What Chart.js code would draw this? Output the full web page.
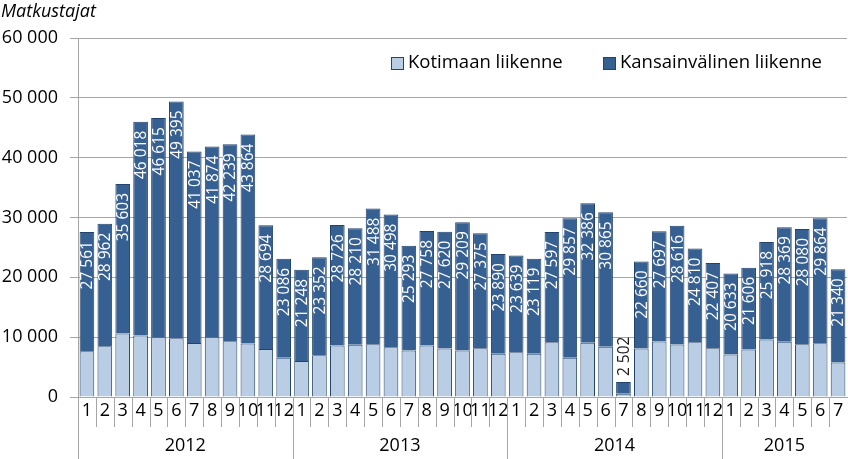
<!DOCTYPE html>
<html>
<head>
<meta charset="utf-8">
<script src="https://cdn.jsdelivr.net/npm/chart.js@4"></script>
<style>
  body { margin: 0; background: #fff; }
  canvas { display: block; }
</style>
</head>
<body>
<canvas id="chart" width="848" height="459"></canvas>
<script>
// month labels on the x axis, grouped by year
const months = [
  '1','2','3','4','5','6','7','8','9','10','11','12',
  '1','2','3','4','5','6','7','8','9','10','11','12',
  '1','2','3','4','5','6','7','8','9','10','11','12',
  '1','2','3','4','5','6','7'
];
const years = ['2012', '2013', '2014', '2015'];
const monthsPerYear = [12, 12, 12, 7];

// total passengers, written on the bars
const totals = [
  27561, 28962, 35603, 46018, 46615, 49395, 41037, 41874, 42239, 43864, 28694, 23086,
  21248, 23352, 28726, 28210, 31488, 30498, 25293, 27758, 27620, 29209, 27375, 23890,
  23639, 23119, 27597, 29857, 32386, 30865, 2502, 22660, 27697, 28616, 24810, 22407,
  20633, 21606, 25918, 28369, 28080, 29864, 21340
];

// domestic traffic (estimated from the light bars)
const domestic = [
  7640, 8480, 10600, 10270, 9980, 9820, 9040, 9980, 9310, 8930, 8040, 6580,
  6030, 6980, 8600, 8720, 8830, 8320, 7770, 8600, 8100, 7770, 8160, 7210,
  7490, 7210, 9160, 6540, 9050, 8380, 560, 8100, 9270, 8770, 9160, 8160,
  7090, 7930, 9610, 9220, 8830, 8990, 5750
];

// international traffic (dark part of the bars)
const international = [
  19921, 20482, 25003, 35748, 36635, 39575, 31997, 31894, 32929, 34934, 20654, 16506,
  15218, 16372, 20126, 19490, 22658, 22178, 17523, 19158, 19520, 21439, 19215, 16680,
  16149, 15909, 18437, 23317, 23336, 22485, 1942, 14560, 18427, 19846, 15650, 14247,
  13543, 13676, 16308, 19149, 19250, 20874, 15590
];

const FONT = "'Open Sans', sans-serif";
const gridGrey = '#a6a6a6';
const lightBlue = '#b9cde5';
const darkBlue = '#376092';
const edge = '#22436b';

function fmt(n) {
  return String(n).replace(/\B(?=(\d{3})+(?!\d))/g, ' ');
}

// labels, legend, title and the year rows under the axis
const extras = {
  id: 'extras',
  afterDatasetsDraw(chart) {
    const ctx = chart.ctx;
    const bars = chart.getDatasetMeta(1).data;
    ctx.save();
    ctx.font = '15.5px ' + FONT;
    ctx.textBaseline = 'middle';
    bars.forEach((bar, i) => {
      ctx.save();
      if (totals[i] < 5000) {
        ctx.translate(bar.x + 1, bar.y - 6);
        ctx.rotate(-Math.PI / 2);
        ctx.textAlign = 'left';
        ctx.fillStyle = '#1a1a1a';
      } else {
        ctx.translate(bar.x + 1, bar.y + 9);
        ctx.rotate(-Math.PI / 2);
        ctx.textAlign = 'right';
        ctx.fillStyle = '#ffffff';
      }
      ctx.fillText(fmt(totals[i]), 0, 0);
      ctx.restore();
    });
    ctx.restore();
  },
  afterDraw(chart) {
    const ctx = chart.ctx;
    const x = chart.scales.x;
    const area = chart.chartArea;
    const w = (x.right - x.left) / months.length;
    ctx.save();

    // separators under the axis
    ctx.strokeStyle = gridGrey;
    ctx.lineWidth = 1;
    const yearStarts = [];
    let acc = 0;
    monthsPerYear.forEach(n => { yearStarts.push(acc); acc += n; });
    for (let k = 0; k < months.length; k++) {
      const xb = Math.round(x.left + k * w) + 0.5;
      const isYear = yearStarts.includes(k);
      ctx.beginPath();
      ctx.moveTo(xb, area.bottom);
      ctx.lineTo(xb, isYear ? 459 : area.bottom + 30);
      ctx.stroke();
    }

    // year labels
    ctx.fillStyle = '#000';
    ctx.font = '18px ' + FONT;
    ctx.textAlign = 'center';
    ctx.textBaseline = 'middle';
    years.forEach((y, i) => {
      const cx = x.left + (yearStarts[i] + monthsPerYear[i] / 2) * w;
      ctx.fillText(y, cx, 446);
    });

    // axis title
    ctx.font = 'italic 18px ' + FONT;
    ctx.textAlign = 'left';
    ctx.fillText('Matkustajat', 1, 12);

    // legend
    const items = [
      { text: 'Kotimaan liikenne', color: lightBlue, x: 391 },
      { text: 'Kansainvälinen liikenne', color: darkBlue, x: 603 }
    ];
    ctx.font = '18.5px ' + FONT;
    items.forEach(it => {
      ctx.fillStyle = it.color;
      ctx.fillRect(it.x + 0.5, 57.5, 12, 12);
      ctx.strokeStyle = edge;
      ctx.strokeRect(it.x + 0.5, 57.5, 12, 12);
      ctx.fillStyle = '#000';
      ctx.fillText(it.text, it.x + 17, 63);
    });
    ctx.restore();
  }
};

new Chart(document.getElementById('chart'), {
  type: 'bar',
  data: {
    labels: months,
    datasets: [
      {
        label: 'Kotimaan liikenne',
        data: domestic,
        backgroundColor: lightBlue,
        borderColor: edge,
        borderWidth: 1
      },
      {
        label: 'Kansainvälinen liikenne',
        data: international,
        backgroundColor: darkBlue,
        borderColor: edge,
        borderWidth: 1
      }
    ]
  },
  options: {
    responsive: false,
    animation: false,
    layout: { padding: { top: 38, right: 1, left: 0, bottom: 0 } },
    datasets: { bar: { barPercentage: 0.82, categoryPercentage: 1 } },
    plugins: {
      legend: { display: false },
      tooltip: { enabled: false }
    },
    scales: {
      x: {
        stacked: true,
        grid: { display: false, drawTicks: false },
        border: { color: gridGrey },
        ticks: {
          autoSkip: false,
          maxRotation: 0,
          padding: 3,
          color: '#000',
          font: { family: FONT, size: 18 }
        },
        afterFit(s) { s.height = 62; }
      },
      y: {
        stacked: true,
        min: 0,
        max: 60000,
        ticks: {
          stepSize: 10000,
          padding: 12,
          color: '#000',
          font: { family: FONT, size: 18 },
          callback: v => fmt(v)
        },
        grid: { color: gridGrey, tickLength: 8, tickColor: gridGrey },
        border: { color: gridGrey },
        afterFit(s) { s.width = 78; }
      }
    }
  },
  plugins: [extras]
});
</script>
</body>
</html>
